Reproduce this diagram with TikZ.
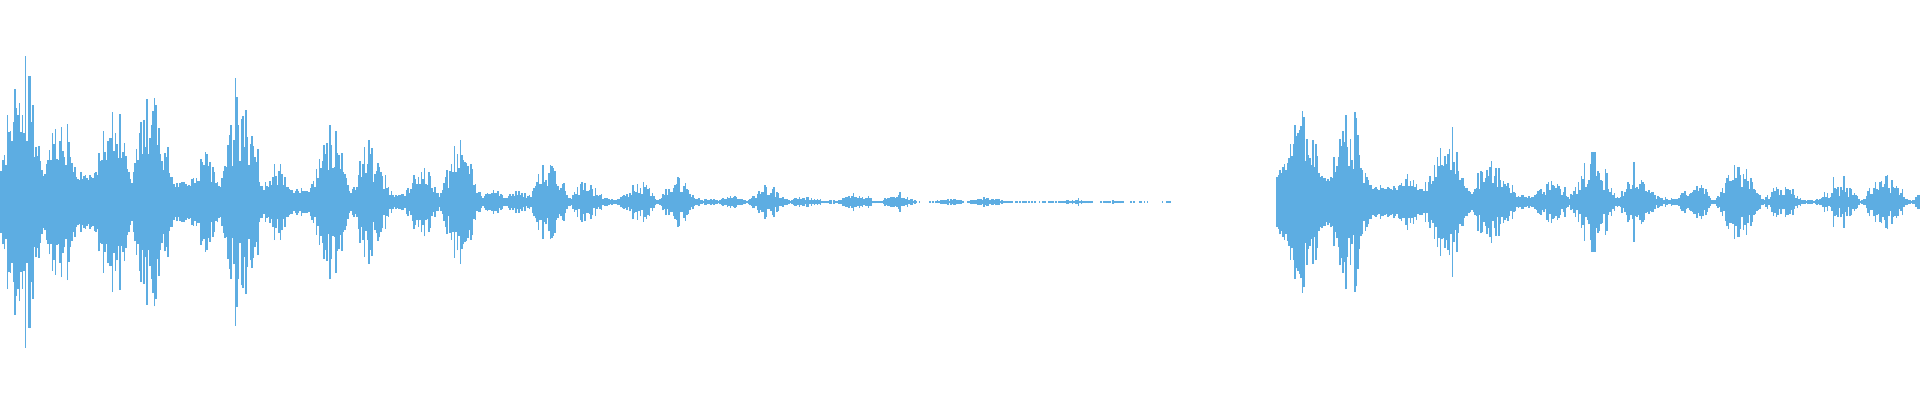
\documentclass[tikz,border=0pt]{standalone}
\definecolor{wave}{RGB}{93,173,226}
\tikzset{sample/.style={draw=wave,line width=0.45pt}}
\begin{document}
\begin{tikzpicture}[x=0.01cm,y=0.01cm]
\useasboundingbox (0,0) rectangle (1920,400);
\pgfmathsetseed{23}
% first burst of speech
\foreach \x in {0,1.5,...,1170}{
  \pgfmathsetmacro{\env}{130*exp(-(\x/540)^2)}
  \pgfmathsetmacro{\mod}{(0.15+0.85*abs(sin(\x*4.1)*sin(\x*1.7+40)))^1.5}
  \pgfmathsetmacro{\spk}{rnd>0.93 ? 1.7 : 1}
  \pgfmathsetmacro{\h}{\env*(0.2*exp(-\x/250)+\mod*\spk*(0.3+0.7*rnd))}
  \pgfmathparse{\h>0.5 || rnd>0.6 ? 1 : 0}
  \ifnum\pgfmathresult=1 \draw[sample] (\x,198-\h-0.5) -- (\x,198+\h+0.5);\fi
}
% second burst of speech
\foreach \x in {1277,1278.5,...,1920}{
  \pgfmathsetmacro{\env}{90*exp(-(\x-1277)/560)}
  \pgfmathsetmacro{\mod}{(0.15+0.85*abs(sin((\x-1277)*3.7)*sin((\x-1277)*1.3+30)))^1.5}
  \pgfmathsetmacro{\spk}{rnd>0.93 ? 1.6 : 1}
  \pgfmathsetmacro{\h}{max(0.6,\env*(0.25*exp(-(\x-1277)/150)+\mod*\spk*(0.3+0.7*rnd)))}
  \draw[sample] (\x,198-\h) -- (\x,198+\h);
}
\end{tikzpicture}
\end{document}
